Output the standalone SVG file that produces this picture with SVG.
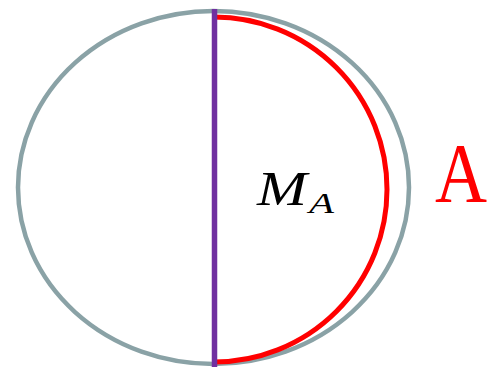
<svg xmlns="http://www.w3.org/2000/svg" width="491" height="371" viewBox="0 0 491 371">
<style>
.outer{fill:none;stroke:#8aa2a6;stroke-width:4.5}
.arc{fill:none;stroke:#ff0000;stroke-width:5}
.chord{stroke:#7030a0;stroke-width:5.5}
.lbl{font-family:"Liberation Serif","DejaVu Serif",serif;font-style:italic;fill:#000}
.set{font-family:"Liberation Serif","DejaVu Serif",serif;fill:#ff0000}
</style>
<rect width="491" height="371" fill="#fff"/>
<g id="ellipse"><ellipse class="outer" cx="213.5" cy="187.5" rx="195.5" ry="176.5"/></g>
<g id="region-A"><path class="arc" d="M214,17 A173,172.5 0 0 1 214,362"/></g>
<g id="chord"><line class="chord" x1="214.5" y1="9" x2="214.5" y2="367"/></g>
<g id="label-MA"><text class="lbl" x="257" y="205" font-size="49" textLength="50" lengthAdjust="spacingAndGlyphs">M</text><text class="lbl" x="309" y="213" font-size="30" textLength="25" lengthAdjust="spacingAndGlyphs">A</text></g>
<g id="label-A"><text class="set" x="435" y="202" font-size="84" textLength="52" lengthAdjust="spacingAndGlyphs">A</text></g>
</svg>
